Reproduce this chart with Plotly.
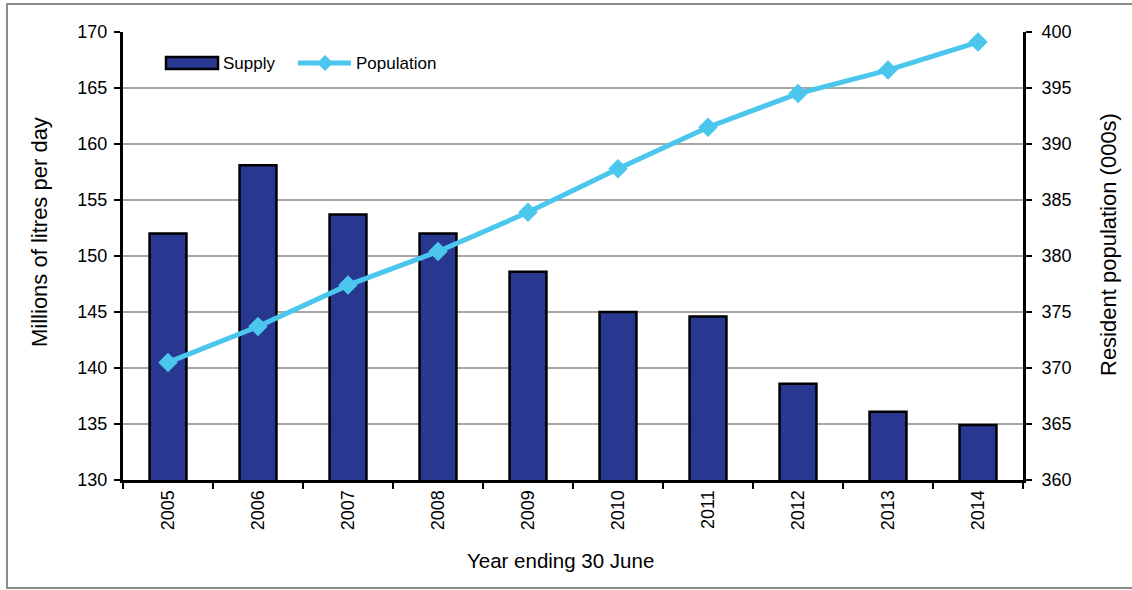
import plotly.graph_objects as go

# Annual water supply and resident population
years = ["2005", "2006", "2007", "2008", "2009", "2010", "2011", "2012", "2013", "2014"]
supply = [152.0, 158.1, 153.7, 152.0, 148.6, 145.0, 144.6, 138.6, 136.1, 134.9]
population = [370.5, 373.7, 377.4, 380.4, 383.9, 387.8, 391.5, 394.5, 396.6, 399.1]

left_ticks = [130, 135, 140, 145, 150, 155, 160, 165, 170]
right_ticks = [360, 365, 370, 375, 380, 385, 390, 395, 400]

BAR_COLOR = "#283891"
LINE_COLOR = "#4bc6ec"
FONT = "Liberation Sans, Arial, sans-serif"

W, H = 1132, 590
L, R, T, B = 123, 109, 32, 110
pw, ph = W - L - R, H - T - B


def px_x(x):
    return (x - L) / pw


def px_y(y):
    return (H - B - y) / ph


fig = go.Figure()
fig.add_trace(go.Bar(
    x=years, y=supply, name="Supply", showlegend=False,
    marker=dict(color=BAR_COLOR, line=dict(color="black", width=2.5)),
    width=0.41,
))
fig.add_trace(go.Scatter(
    x=years, y=population, name="Population", yaxis="y2", showlegend=False,
    mode="lines+markers",
    line=dict(color=LINE_COLOR, width=5),
    marker=dict(symbol="diamond", size=15, color=LINE_COLOR),
))

axis_common = dict(
    ticks="outside", ticklen=6, tickwidth=2, tickcolor="black",
    showline=True, linecolor="black", linewidth=3,
    zeroline=False, tickfont=dict(family=FONT, size=18, color="black"),
)

# Inner halves of the crossing tick marks
inner_ticks = dict(
    ticks="inside", ticklen=8, tickwidth=2, tickcolor="black",
    showline=False, showgrid=False, zeroline=False, showticklabels=False,
    automargin=False,
)

# Legend drawn as shapes and text in the upper-left of the plot
shapes = [
    dict(type="rect", xref="paper", yref="paper",
         x0=(7 - L) / pw, x1=(W + 10 - L) / pw,
         y0=px_y(588), y1=px_y(4),
         line=dict(color="#8c8c8c", width=2), fillcolor="rgba(0,0,0,0)", layer="below"),
    dict(type="rect", xref="paper", yref="paper",
         x0=px_x(166), x1=px_x(218), y0=px_y(69), y1=px_y(57),
         line=dict(color="black", width=2.5), fillcolor=BAR_COLOR),
    dict(type="line", xref="paper", yref="paper",
         x0=px_x(298), x1=px_x(351), y0=px_y(63), y1=px_y(63),
         line=dict(color=LINE_COLOR, width=5)),
    dict(type="path", xref="paper", yref="paper",
         path="M {a},{c} L {m},{t} L {b},{c} L {m},{bt} Z".format(
             a=px_x(317), b=px_x(333), m=px_x(325),
             c=px_y(63), t=px_y(55), bt=px_y(71)),
         line=dict(color=LINE_COLOR, width=0), fillcolor=LINE_COLOR),
]

annotations = [
    dict(text="Supply", xref="paper", yref="paper", x=px_x(221), y=px_y(64),
         xanchor="left", yanchor="middle", showarrow=False,
         font=dict(family=FONT, size=17, color="black")),
    dict(text="Population", xref="paper", yref="paper", x=px_x(354), y=px_y(64),
         xanchor="left", yanchor="middle", showarrow=False,
         font=dict(family=FONT, size=17, color="black")),
    dict(text="Millions of litres per day", xref="paper", yref="paper",
         x=px_x(39), y=px_y(232), xanchor="center", yanchor="middle",
         textangle=-90, showarrow=False,
         font=dict(family=FONT, size=22, color="black")),
    dict(text="Resident population (000s)", xref="paper", yref="paper",
         x=px_x(1108), y=px_y(245), xanchor="center", yanchor="middle",
         textangle=-90, showarrow=False,
         font=dict(family=FONT, size=22, color="black")),
    dict(text="Year ending 30 June", xref="paper", yref="paper",
         x=px_x(560), y=px_y(560), xanchor="center", yanchor="middle",
         showarrow=False,
         font=dict(family=FONT, size=20.5, color="black")),
]

fig.update_layout(
    width=W, height=H,
    margin=dict(l=L, r=R, t=T, b=B, autoexpand=False),
    paper_bgcolor="white", plot_bgcolor="white",
    showlegend=False,
    xaxis=dict(
        type="category", range=[-0.5, 9.5], tickangle=-90, tickson="boundaries",
        showgrid=False, automargin=False, **axis_common,
    ),
    yaxis=dict(
        range=[130, 170], tickvals=left_ticks, ticklabelstandoff=3,
        showgrid=True, gridcolor="#a6a6a6", gridwidth=2, automargin=False,
        **axis_common,
    ),
    yaxis2=dict(
        range=[360, 400], tickvals=right_ticks, overlaying="y", side="right",
        ticklabelstandoff=6,
        showgrid=False, automargin=False, **axis_common,
    ),
    yaxis3=dict(range=[130, 170], tickvals=left_ticks, overlaying="y", side="left",
                **inner_ticks),
    yaxis4=dict(range=[360, 400], tickvals=right_ticks, overlaying="y", side="right",
                **inner_ticks),
    bargap=0.59,
    shapes=shapes,
    annotations=annotations,
)

fig.write_html("out.html")
